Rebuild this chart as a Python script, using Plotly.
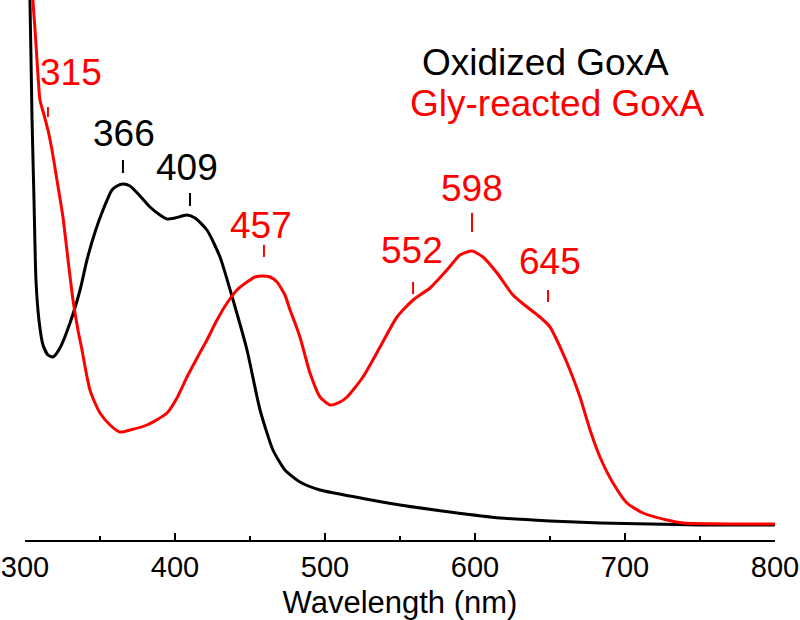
import plotly.graph_objects as go

# Oxidized GoxA spectrum (wavelength nm, absorbance a.u.)
ox_wl = [301.3, 303.3, 304.7, 306.0, 307.3, 309.3, 312.0, 315.3, 318.7, 323.3, 330.0, 336.7,
         341.3, 346.7, 352.0, 358.0, 361.3, 365.3, 370.0, 376.7, 383.3, 390.0, 394.7, 400.0,
         404.7, 408.0, 413.3, 421.3, 430.0, 438.7, 448.0, 456.7, 465.3, 473.3, 483.3, 496.7,
         516.7, 550.0, 583.3, 616.7, 650.0, 683.3, 716.7, 750.0, 800.0]
ox_abs = [1.250, 1.050, 0.810, 0.650, 0.490, 0.410, 0.360, 0.340, 0.336, 0.354, 0.404, 0.470,
          0.530, 0.586, 0.630, 0.670, 0.678, 0.682, 0.678, 0.658, 0.636, 0.620, 0.612, 0.614,
          0.618, 0.620, 0.614, 0.590, 0.536, 0.450, 0.350, 0.230, 0.150, 0.110, 0.086, 0.070,
          0.058, 0.040, 0.026, 0.014, 0.008, 0.004, 0.002, 0.000, 0.000]

# Gly-reacted GoxA spectrum
gly_wl = [303.3, 305.3, 306.7, 308.0, 310.0, 312.7, 315.3, 318.0, 321.3, 325.3, 328.7, 332.0,
          335.3, 338.0, 340.7, 343.3, 346.7, 350.0, 356.7, 363.3, 370.0, 381.3, 394.7, 401.3,
          408.0, 414.7, 421.3, 428.0, 434.7, 441.3, 448.0, 453.3, 458.7, 463.3, 468.0, 473.3,
          476.7, 480.0, 483.3, 490.0, 496.7, 503.3, 510.0, 514.7, 525.3, 536.7, 548.0, 558.7,
          570.0, 581.3, 590.0, 598.0, 605.3, 614.7, 625.3, 634.7, 643.3, 650.0, 656.7, 663.3,
          670.0, 676.7, 683.3, 692.0, 701.3, 712.0, 728.0, 738.7, 800.0]
gly_abs = [1.250, 1.050, 0.990, 0.930, 0.850, 0.820, 0.790, 0.750, 0.690, 0.616, 0.530, 0.450,
           0.390, 0.350, 0.306, 0.270, 0.244, 0.224, 0.200, 0.186, 0.190, 0.200, 0.224, 0.254,
           0.296, 0.334, 0.370, 0.410, 0.444, 0.470, 0.486, 0.496, 0.498, 0.496, 0.486, 0.460,
           0.430, 0.404, 0.376, 0.304, 0.256, 0.240, 0.246, 0.256, 0.296, 0.356, 0.416, 0.450,
           0.474, 0.510, 0.540, 0.548, 0.536, 0.504, 0.460, 0.436, 0.416, 0.396, 0.356, 0.310,
           0.256, 0.190, 0.136, 0.084, 0.044, 0.024, 0.010, 0.004, 0.002]

# Peak labels: text, label position, tick position (x, y_top, y_bottom), series
peak_text = ["315", "366", "409", "457", "552", "598", "645"]
peak_label_x = [330.7, 366.0, 408.0, 457.3, 558.0, 598.0, 650.0]
peak_label_y = [0.906, 0.784, 0.716, 0.600, 0.550, 0.674, 0.528]
peak_tick_x = [315.3, 365.3, 410.0, 459.3, 558.7, 598.0, 648.7]
peak_tick_y0 = [0.836, 0.730, 0.664, 0.560, 0.486, 0.624, 0.470]
peak_tick_y1 = [0.816, 0.704, 0.638, 0.536, 0.462, 0.586, 0.446]
peak_series = ["gly", "ox", "ox", "gly", "gly", "gly", "gly"]

series_names = ["Oxidized GoxA", "Gly-reacted GoxA"]
x_ticks = [300, 400, 500, 600, 700, 800]

colors = {"ox": "#000000", "gly": "#ff0000"}
FONT = "Liberation Sans, Arial, sans-serif"

fig = go.Figure()
fig.add_trace(go.Scatter(x=ox_wl, y=ox_abs, mode="lines", name=series_names[0],
                         line=dict(color=colors["ox"], width=3, shape="spline", smoothing=0.6),
                         showlegend=False))
fig.add_trace(go.Scatter(x=gly_wl, y=gly_abs, mode="lines", name=series_names[1],
                         line=dict(color=colors["gly"], width=3, shape="spline", smoothing=0.6),
                         showlegend=False))

for t, lx, ly, tx, ty0, ty1, s in zip(peak_text, peak_label_x, peak_label_y, peak_tick_x,
                                       peak_tick_y0, peak_tick_y1, peak_series):
    fig.add_annotation(x=lx, y=ly, text=t, showarrow=False, xanchor="center", yanchor="middle",
                       font=dict(family=FONT, size=37, color=colors[s]))
    fig.add_shape(type="line", x0=tx, x1=tx, y0=ty0, y1=ty1,
                  line=dict(color=colors[s], width=2))

# legend-like coloured text
fig.add_annotation(x=563.3, y=0.926, text=series_names[0], showarrow=False, xanchor="left",
                   yanchor="middle", font=dict(family=FONT, size=37, color=colors["ox"]))
fig.add_annotation(x=555.3, y=0.844, text=series_names[1], showarrow=False, xanchor="left",
                   yanchor="middle", font=dict(family=FONT, size=37, color=colors["gly"]))

fig.update_layout(
    width=800, height=620,
    margin=dict(l=25, r=25, t=0, b=80, autoexpand=False),
    paper_bgcolor="white", plot_bgcolor="white",
    font=dict(family=FONT, color="black"),
)
fig.update_xaxes(
    range=[300, 800], tickvals=x_ticks, ticks="inside", ticklen=7, tickwidth=1.5,
    tickcolor="black", showline=True, linecolor="black", linewidth=1.5, mirror=False,
    showgrid=False, zeroline=False, tickfont=dict(size=29, family=FONT), automargin=False,
    minor=dict(dtick=50, ticks="inside", ticklen=4, tickwidth=1.5, tickcolor="black"),
    title=dict(text="Wavelength (nm)", font=dict(size=31, family=FONT), standoff=12),
)
fig.update_yaxes(range=[-0.03, 1.05], visible=False, showgrid=False, zeroline=False,
                 automargin=False)

fig.write_html("out.html", config={"displayModeBar": False},
               post_script="document.body.style.margin='0px';document.body.style.overflow='hidden';")
